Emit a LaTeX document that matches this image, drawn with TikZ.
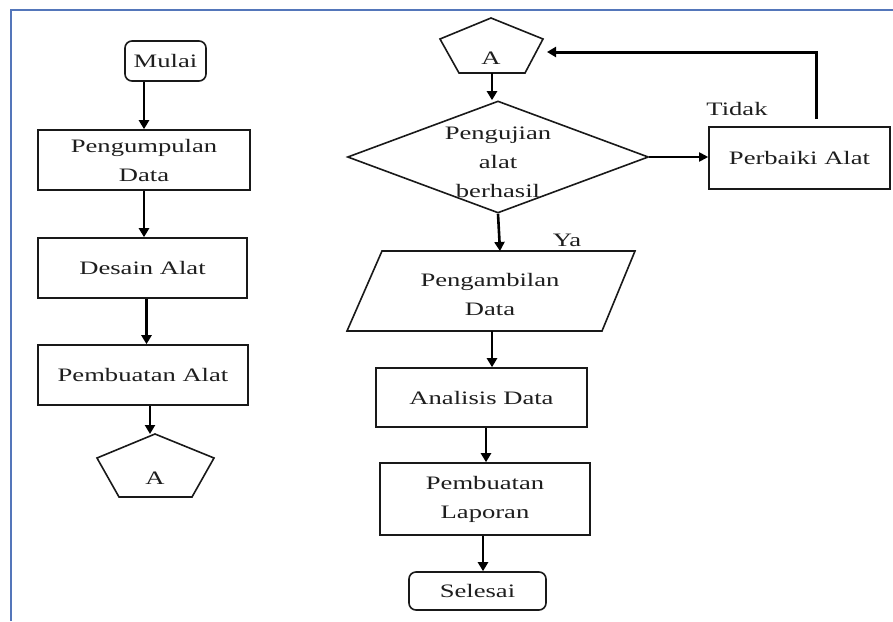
\documentclass[tikz,border=0pt]{standalone}
\usepackage{fontspec}
\setmainfont{Liberation Serif}
\usetikzlibrary{shapes.geometric,arrows.meta}
\newcommand{\wt}[1]{\scalebox{1.4}[1]{#1}}
\definecolor{framecol}{RGB}{84,118,186}
\definecolor{ink}{RGB}{25,25,25}
\definecolor{txt}{RGB}{30,30,30}
\begin{document}
\begin{tikzpicture}[x=1pt,y=-1pt,
  box/.style={draw=ink, line width=1.6pt, rectangle, inner sep=0pt, text=txt,
              font=\fontsize{19}{29}\selectfont, align=center},
  term/.style={box, rounded corners=7pt},
  lbl/.style={text=txt, font=\fontsize{19}{29}\selectfont, inner sep=0pt, align=center},
  shp/.style={draw=ink, line width=1.6pt, line join=miter},
  arr/.style={draw=black, line width=2.6pt, -{Triangle[length=9pt,width=10pt]}},
  thinarr/.style={draw=black, line width=1.8pt, -{Triangle[length=9pt,width=9pt]}},
]
\useasboundingbox (0,0) rectangle (893,621);
\fill[white] (0,0) rectangle (893,621);
% frame
\draw[framecol, line width=1.5pt] (11,621) -- (11,10) -- (893,10);

% left column
\node[term, minimum width=81pt, minimum height=40pt] (mulai) at (165.5,61) {\wt{Mulai}};
\node[box, minimum width=212pt, minimum height=60pt] (peng) at (144,160) {\wt{Pengumpulan}\\\wt{Data}};
\node[box, minimum width=209pt, minimum height=60pt] (desain) at (142.5,268) {\wt{Desain Alat}};
\node[box, minimum width=210pt, minimum height=60pt] (pemb) at (143,375) {\wt{Pembuatan Alat}};
% left pentagon A
\coordinate (paT) at (155,434);
\draw[shp] (paT) -- (214,458) -- (192,497) -- (119,497) -- (97,458) -- cycle;
\node[lbl] (pa) at (155,478) {\wt{A}};

\draw[arr] (peng.north |- mulai.south) -- (peng.north);
\draw[arr] (peng.south) -- (peng.south |- desain.north);
\draw[arr] ([xshift=4pt]desain.south) -- ([xshift=4pt]desain.south |- pemb.north);
\draw[arr] ([xshift=7pt]pemb.south) -- ([xshift=7pt]pemb.south |- paT);

% right column
\coordinate (pbB) at (492,73);
\coordinate (pbR) at (547,52);
\draw[shp] (491,18) -- (543,39) -- (525,73) -- (459,73) -- (440,39) -- cycle;
\node[lbl] (pb) at (491,58) {\wt{A}};

\node[diamond, draw=ink, line width=1.6pt, minimum width=301pt, minimum height=112pt, inner sep=0pt] (dia) at (498,157) {};
\node[lbl] (diat) at (498,162) {\wt{Pengujian}\\\wt{alat}\\\wt{berhasil}};

\coordinate (parT) at (500,251);
\coordinate (parB) at (492,331);
\draw[shp] (382,251) -- (635,251) -- (602,331) -- (347,331) -- cycle;
\node[lbl] (part) at (490,294.5) {\wt{Pengambilan}\\\wt{Data}};

\node[box, minimum width=211pt, minimum height=59pt] (ana) at (481.5,397.5) {\raisebox{-4pt}{\wt{Analisis Data}}};
\node[box, minimum width=210pt, minimum height=72pt] (lap) at (485,499) {\wt{Pembuatan}\\\wt{Laporan}};
\node[term, minimum width=137pt, minimum height=38pt] (sel) at (477.5,591) {\wt{Selesai}};

\node[box, minimum width=181pt, minimum height=62pt] (perb) at (799.5,158) {\wt{Perbaiki Alat}};

\draw[arr] (pbB) -- (pbB |- dia.north);
\draw[arr] (dia.south) -- (parT);
\draw[arr] (parB) -- (parB |- ana.north);
\draw[arr] ([xshift=4.5pt]ana.south) -- ([xshift=4.5pt]ana.south |- lap.north);
\draw[arr] ([xshift=-2pt]lap.south) -- ([xshift=-2pt]lap.south |- sel.north);
\draw[thinarr] (dia.east) -- (perb.west |- dia.east);
\coordinate (loopS) at (816,119);
\draw[arr, line width=3pt] (loopS) |- (pbR);

\node[lbl] (tidak) at (737,109) {\wt{Tidak}};
\node[lbl] (ya) at (567,240) {\wt{Ya}};
\end{tikzpicture}
\end{document}
